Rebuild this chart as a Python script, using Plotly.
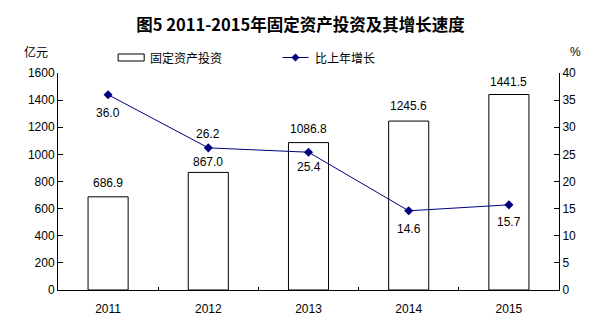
import plotly.graph_objects as go

years = ["2011", "2012", "2013", "2014", "2015"]
investment = [686.9, 867.0, 1086.8, 1245.6, 1441.5]
growth = [36.0, 26.2, 25.4, 14.6, 15.7]
# vertical offsets (px) for the value labels
bar_label_shift = [14, 10, 14, 15, 13]
growth_label_shift = [-18, 14, -15, -18, -17]

font_family = "Liberation Sans, Arial, Noto Sans CJK SC, sans-serif"
cjk_family = "Noto Sans CJK SC, sans-serif"
navy = "#000080"

fig = go.Figure()
fig.add_trace(go.Bar(
    x=years, y=investment, name="固定资产投资",
    marker=dict(color="white", line=dict(color="black", width=1)),
    showlegend=False,
))
fig.add_trace(go.Scatter(
    x=years, y=growth, name="比上年增长", yaxis="y2",
    mode="lines+markers",
    line=dict(color=navy, width=1),
    marker=dict(symbol="diamond", size=7, color=navy),
    showlegend=False, cliponaxis=False,
))

# value labels; on a category axis the annotation x is the category index
annotations = []
for i, (v, s) in enumerate(zip(investment, bar_label_shift)):
    annotations.append(dict(x=i, y=v, xref="x", yref="y", text=f"{v:.1f}",
                            showarrow=False, yanchor="middle", yshift=s,
                            font=dict(family=font_family, size=12, color="black")))
for i, (v, s) in enumerate(zip(growth, growth_label_shift)):
    annotations.append(dict(x=i, y=v, xref="x", yref="y2", text=f"{v:.1f}",
                            showarrow=False, yanchor="middle", yshift=s,
                            font=dict(family=font_family, size=12, color="black")))

# axis unit labels
annotations += [
    dict(text="亿元", xref="paper", yref="paper", x=-0.044, y=1.097,
         xanchor="center", yanchor="middle", showarrow=False,
         font=dict(family=cjk_family, size=12, color="black")),
    dict(text="%", xref="paper", yref="paper", x=1.032, y=1.097,
         xanchor="center", yanchor="middle", showarrow=False,
         font=dict(family=font_family, size=12, color="black")),
    # legend texts
    dict(text="固定资产投资", xref="paper", yref="paper", x=0.18, y=1.0714,
         xanchor="left", yanchor="middle", showarrow=False,
         font=dict(family=cjk_family, size=12, color="black")),
    dict(text="比上年增长", xref="paper", yref="paper", x=0.508, y=1.0714,
         xanchor="left", yanchor="middle", showarrow=False,
         font=dict(family=cjk_family, size=12, color="black")),
]

# legend keys
dx, dy = 0.007, 0.0161
mx, my = 0.474, 1.0714
shapes = [
    dict(type="rect", xref="paper", yref="paper", x0=0.12, x1=0.172, y0=1.0553, y1=1.0876,
         line=dict(color="black", width=1), fillcolor="white"),
    dict(type="line", xref="paper", yref="paper", x0=0.448, x1=0.5, y0=my, y1=my,
         line=dict(color=navy, width=1)),
    dict(type="path", xref="paper", yref="paper",
         path=f"M {mx-dx} {my} L {mx} {my+dy} L {mx+dx} {my} L {mx} {my-dy} Z",
         line=dict(color=navy, width=1), fillcolor=navy),
]

fig.update_layout(
    width=610, height=334,
    margin=dict(l=58, r=51, t=73, b=44),
    paper_bgcolor="white", plot_bgcolor="white",
    bargap=0.6,
    showlegend=False,
    title=dict(text="<b>图5 2011-2015年固定资产投资及其增长速度</b>",
               x=0.484, xanchor="center", xref="paper", y=0.925, yanchor="middle",
               font=dict(family=cjk_family, size=16.5, color="black")),
    xaxis=dict(type="category", range=[-0.5, len(years) - 0.5],
               showline=True, linecolor="black", linewidth=1,
               ticks="inside", tickson="boundaries", ticklen=3, tickcolor="black",
               tickangle=0, ticklabelstandoff=8,
               tickfont=dict(family=font_family, size=12, color="black")),
    yaxis=dict(range=[0, 1600], dtick=200, showgrid=False, zeroline=False,
               showline=True, linecolor="black", linewidth=1,
               ticks="inside", ticklen=5, tickcolor="black",
               tickfont=dict(family=font_family, size=12, color="black")),
    yaxis2=dict(range=[0, 40], dtick=5, overlaying="y", side="right",
                showgrid=False, zeroline=False,
                showline=True, linecolor="black", linewidth=1,
                ticks="inside", ticklen=5, tickcolor="black",
                tickfont=dict(family=font_family, size=12, color="black")),
    annotations=annotations,
    shapes=shapes,
)

fig.write_html("out.html")
